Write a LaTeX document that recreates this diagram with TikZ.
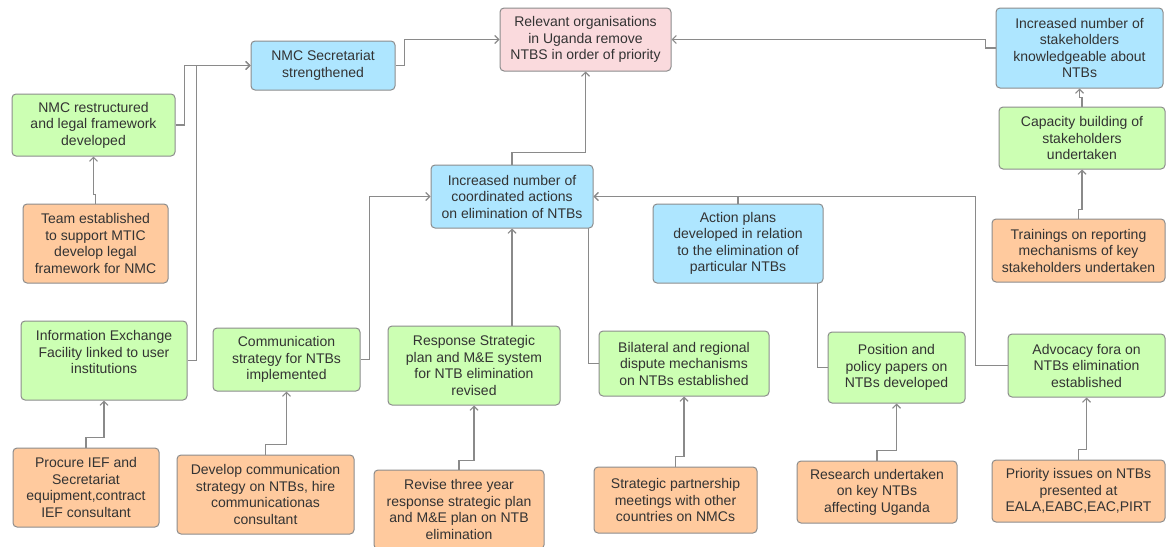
\documentclass[tikz,border=0pt]{standalone}
\usepackage{fontspec}
\setmainfont{Liberation Sans}
\usetikzlibrary{arrows.meta,backgrounds}

\definecolor{boxgreen}{HTML}{CCFFB3}
\definecolor{boxblue}{HTML}{AEE6FF}
\definecolor{boxpink}{HTML}{FADADD}
\definecolor{boxorange}{HTML}{FFCA9E}
\definecolor{boxline}{HTML}{8C8C8C}
\definecolor{linegray}{HTML}{8A8A8A}
\definecolor{txtgray}{HTML}{333333}

\begin{document}
\begin{tikzpicture}[x=1pt, y=-1pt]
		\tikzset{box/.style={draw=boxline, rounded corners=4pt, line width=1pt, text=txtgray, align=center, inner sep=0pt, font=\fontsize{14}{16.5}\selectfont}};
		\tikzset{gbox/.style={box, fill=boxgreen}, bbox/.style={box, fill=boxblue}, pbox/.style={box, fill=boxpink}, obox/.style={box, fill=boxorange}};
		\tikzset{link/.style={draw=linegray, line width=1.1pt, -{Straight Barb[length=4pt, width=8pt]}}};

		\useasboundingbox (0,0) rectangle (1166,546);

		\node[pbox, minimum width=171pt, minimum height=63pt] (rel) at (585.5, 39.5) {Relevant organisations\\in Uganda remove\\NTBS in order of priority};
		\node[bbox, minimum width=144pt, minimum height=49pt] (sec) at (323, 65.5) {NMC Secretariat\\strengthened};
		\node[bbox, minimum width=167pt, minimum height=80pt] (stk) at (1079.5, 48) {Increased number of\\stakeholders\\knowledgeable about\\NTBs};
		\node[bbox, minimum width=162pt, minimum height=63pt] (crd) at (512, 196.5) {Increased number of\\coordinated actions\\on elimination of NTBs};
		\node[bbox, minimum width=170pt, minimum height=79pt] (act) at (738, 243.5) {Action plans\\developed in relation\\to the elimination of\\particular NTBs};

		\node[gbox, minimum width=163pt, minimum height=62pt] (nmc) at (93.5, 125) {NMC restructured\\and legal framework\\developed};
		\node[gbox, minimum width=166pt, minimum height=62pt] (cap) at (1082, 138) {Capacity building of\\stakeholders\\undertaken};
		\node[gbox, minimum width=166pt, minimum height=79pt] (ief) at (104, 360.5) {Information Exchange\\Facility linked to user\\institutions\\\mbox{}};
		\node[gbox, minimum width=147pt, minimum height=63pt] (com) at (286.5, 359.5) {Communication\\strategy for NTBs\\implemented};
		\node[gbox, minimum width=172pt, minimum height=79pt] (rsp) at (474, 365.5) {Response Strategic\\plan and M\&E system\\for NTB elimination\\revised};
		\node[gbox, minimum width=170pt, minimum height=65pt] (bil) at (684, 363.5) {Bilateral and regional\\dispute mechanisms\\on NTBs established};
		\node[gbox, minimum width=137pt, minimum height=71pt] (pos) at (896.5, 367.5) {Position and\\policy papers on\\NTBs developed};
		\node[gbox, minimum width=157pt, minimum height=63pt] (adv) at (1086.5, 365.5) {Advocacy fora on\\NTBs elimination\\established};

		\node[obox, minimum width=145pt, minimum height=79pt] (team) at (95.5, 243.5) {Team established\\to support MTIC\\develop legal\\framework for NMC};
		\node[obox, minimum width=173pt, minimum height=63pt] (trn) at (1078.5, 250.5) {Trainings on reporting\\mechanisms of key\\stakeholders undertaken};
		\node[obox, minimum width=146pt, minimum height=79pt] (prc) at (86, 487.5) {Procure IEF and\\Secretariat\\equipment,contract\\IEF consultant};
		\node[obox, minimum width=177pt, minimum height=79pt] (dev) at (265.5, 494.5) {Develop communication\\strategy on NTBs, hire\\communicationas\\consultant};
		\node[obox, minimum width=170pt, minimum height=79pt] (rev) at (459, 509.5) {Revise three year\\response strategic plan\\and M\&E plan on NTB\\elimination};
		\node[obox, minimum width=163pt, minimum height=66pt] (spm) at (675.5, 500) {Strategic partnership\\meetings with other\\countries on NMCs};
		\node[obox, minimum width=160pt, minimum height=62pt] (rsc) at (877, 492) {Research undertaken\\on key NTBs\\affecting Uganda};
		\node[obox, minimum width=173pt, minimum height=62pt] (pri) at (1078.5, 491) {Priority issues on NTBs\\presented at\\EALA,EABC,EAC,PIRT};

		\begin{scope}[on background layer]
		\draw[link] (nmc.east) -- ++(9,0) |- (sec.west);
		\draw[link] (ief.east) -- ++(9,0) |- (sec.west);
		\draw[link] (sec.east) -- ++(9,0) |- (rel.west);
		\draw[link] (stk.west) -- ++(-10,0) |- (rel.east);
		\draw[link] (crd.north) -- ++(0,-12) -| (rel.south);

		\draw[link] (cap.north) -- ++(0,-9) -| (stk.south);
		\draw[link] (trn.north) -- ++(0,-9) -| (cap.south);
		\draw[link] (team.north) -- ++(0,-9) -| (nmc.south);

		\draw[link] (com.east) -- ++(9,0) |- (crd.west);
		\draw[link] (crd.south |- rsp.north) -- (crd.south);
		\draw[link] (bil.west) -- ++(-10,0) |- (crd.center);
		\draw[link] (act.north) |- (crd.east);
		\draw[link] (pos.west) -- ++(-10,0) |- (act.center);
		\draw[link] (adv.west) -- ++(-32,0) |- (crd.east);

		\draw[link] (prc.north) -- ++(0,-10) -| (ief.south);
		\draw[link] (dev.north) -- ++(0,-10) -| (com.south);
		\draw[link] (rev.north) -- ++(0,-9) -| (rsp.south);
		\draw[link] (spm.north) -- ++(0,-10) -| (bil.south);
		\draw[link] (rsc.north) -- ++(0,-10) -| (pos.south);
		\draw[link] (pri.north) -- ++(0,-10) -| (adv.south);
		\end{scope}

	\end{tikzpicture}
\end{document}
